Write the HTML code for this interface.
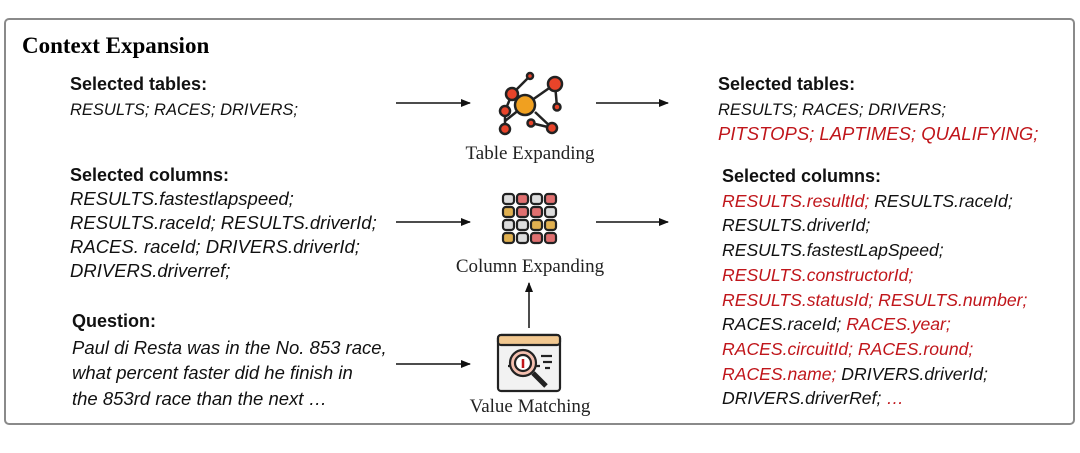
<!DOCTYPE html>
<html><head><meta charset="utf-8"><style>
body{margin:0;width:1080px;height:453px;background:#fff;position:relative;overflow:hidden;font-family:"Liberation Sans",sans-serif;}
.box{position:absolute;left:4px;top:18px;width:1067px;height:403px;border:2px solid #8a8a8a;border-radius:5px;}
.t{position:absolute;font-size:16.5px;line-height:24.7px;color:#111;white-space:nowrap}
.t b{font-style:normal;font-size:18px}
.i{font-style:italic}
.r{color:#c0161b}
.lbl{position:absolute;font-family:"Liberation Serif",serif;font-size:19px;color:#222;transform:translateX(-50%);white-space:nowrap}
h1{position:absolute;left:22px;top:32px;margin:0;font-family:"Liberation Serif",serif;font-size:23px;font-weight:bold;line-height:28px}
</style></head><body>
<div class="box"></div>
<h1>Context Expansion</h1>
<div class="t" style="left:70px;top:72px"><b>Selected tables:</b><br><span class="i">RESULTS; RACES; DRIVERS;</span></div>
<div class="t i" style="left:70px;top:163px;line-height:24px;font-size:18.5px"><b>Selected columns:</b><br>RESULTS.fastestlapspeed;<br>RESULTS.raceId; RESULTS.driverId;<br>RACES. raceId; DRIVERS.driverId;<br>DRIVERS.driverref;</div>
<div class="t i" style="left:72px;top:308px;line-height:25.5px;font-size:18.5px"><b>Question:</b><br>Paul di Resta was in the No. 853 race,<br>what percent faster did he finish in<br>the 853rd race than the next …</div>
<div class="t" style="left:718px;top:72px"><b>Selected tables:</b><br><span class="i">RESULTS; RACES; DRIVERS;</span><br><span class="i r" style="font-size:18.5px">PITSTOPS; LAPTIMES; QUALIFYING;</span></div>
<div class="t i" style="left:722px;top:164px;font-size:17.6px"><b>Selected columns:</b><br><span class="r">RESULTS.resultId;</span> RESULTS.raceId;<br>RESULTS.driverId;<br>RESULTS.fastestLapSpeed;<br><span class="r">RESULTS.constructorId;</span><br><span class="r">RESULTS.statusId; RESULTS.number;</span><br>RACES.raceId; <span class="r">RACES.year;</span><br><span class="r">RACES.circuitId; RACES.round;</span><br><span class="r">RACES.name;</span> DRIVERS.driverId;<br>DRIVERS.driverRef; <span class="r">…</span></div>
<div class="lbl" style="left:530px;top:143px">Table Expanding</div>
<div class="lbl" style="left:530px;top:256px">Column Expanding</div>
<div class="lbl" style="left:530px;top:396px">Value Matching</div>
<svg width="1080" height="453" style="position:absolute;left:0;top:0">
<defs><marker id="a" markerWidth="10" markerHeight="8" refX="9" refY="4" orient="auto" markerUnits="userSpaceOnUse"><path d="M0,0L10,4L0,8z" fill="#111"/></marker></defs>
<g stroke="#111" stroke-width="1.5" marker-end="url(#a)">
<line x1="396" y1="103" x2="470" y2="103"/><line x1="596" y1="103" x2="668" y2="103"/>
<line x1="396" y1="222" x2="470" y2="222"/><line x1="596" y1="222" x2="668" y2="222"/>
<line x1="396" y1="364" x2="470" y2="364"/><line x1="529" y1="328" x2="529" y2="283"/>
</g>
<g stroke="#222" stroke-width="2.5">
<line x1="525" y1="105" x2="512" y2="94"/><line x1="525" y1="105" x2="555" y2="84"/><line x1="555" y1="84" x2="557" y2="107"/>
<line x1="525" y1="105" x2="505" y2="121"/><line x1="505" y1="111" x2="505" y2="129"/><line x1="535" y1="112" x2="552" y2="128"/>
<line x1="531" y1="123" x2="552" y2="128"/><line x1="512" y1="94" x2="530" y2="76"/><line x1="505" y1="111" x2="512" y2="94"/>
<circle cx="525" cy="105" r="10" fill="#f0a020"/><circle cx="512" cy="94" r="6" fill="#e8442a"/><circle cx="555" cy="84" r="7" fill="#e8442a"/>
<circle cx="557" cy="107" r="3.5" fill="#e8442a"/><circle cx="505" cy="111" r="5" fill="#e8442a"/><circle cx="505" cy="129" r="5" fill="#e8442a"/>
<circle cx="552" cy="128" r="5" fill="#e8442a"/><circle cx="531" cy="123" r="3.5" fill="#e8442a"/><circle cx="530" cy="76" r="3" fill="#e8442a"/>
</g>
<g stroke="#222" stroke-width="2.2">
<rect x="503" y="194" width="11" height="10" rx="3" fill="#ddd"/><rect x="517" y="194" width="11" height="10" rx="3" fill="#e07070"/><rect x="531" y="194" width="11" height="10" rx="3" fill="#ddd"/><rect x="545" y="194" width="11" height="10" rx="3" fill="#e07070"/>
<rect x="503" y="207" width="11" height="10" rx="3" fill="#e0b050"/><rect x="517" y="207" width="11" height="10" rx="3" fill="#e07070"/><rect x="531" y="207" width="11" height="10" rx="3" fill="#e07070"/><rect x="545" y="207" width="11" height="10" rx="3" fill="#ddd"/>
<rect x="503" y="220" width="11" height="10" rx="3" fill="#ddd"/><rect x="517" y="220" width="11" height="10" rx="3" fill="#ddd"/><rect x="531" y="220" width="11" height="10" rx="3" fill="#e0b050"/><rect x="545" y="220" width="11" height="10" rx="3" fill="#e0b050"/>
<rect x="503" y="233" width="11" height="10" rx="3" fill="#e0b050"/><rect x="517" y="233" width="11" height="10" rx="3" fill="#ddd"/><rect x="531" y="233" width="11" height="10" rx="3" fill="#e07070"/><rect x="545" y="233" width="11" height="10" rx="3" fill="#e07070"/>
</g>
<g stroke="#222" stroke-width="2.2">
<rect x="498" y="335" width="62" height="56" rx="3" fill="#f2f2f2"/>
<rect x="498" y="335" width="62" height="10" rx="3" fill="#f2c890"/>
<line x1="508" y1="366" x2="540" y2="366"/>
<circle cx="523" cy="363" r="13" fill="#f4c0b0"/><circle cx="523" cy="363" r="8" fill="#fff"/>
<line x1="533" y1="373" x2="546" y2="386" stroke-width="5"/>
<line x1="541" y1="356" x2="552" y2="356"/><line x1="543" y1="362" x2="552" y2="362"/><line x1="545" y1="368" x2="550" y2="368"/>
</g>
<line x1="523" y1="359" x2="523" y2="368" stroke="#c0161b" stroke-width="2.5"/>
</svg>
</body></html>
